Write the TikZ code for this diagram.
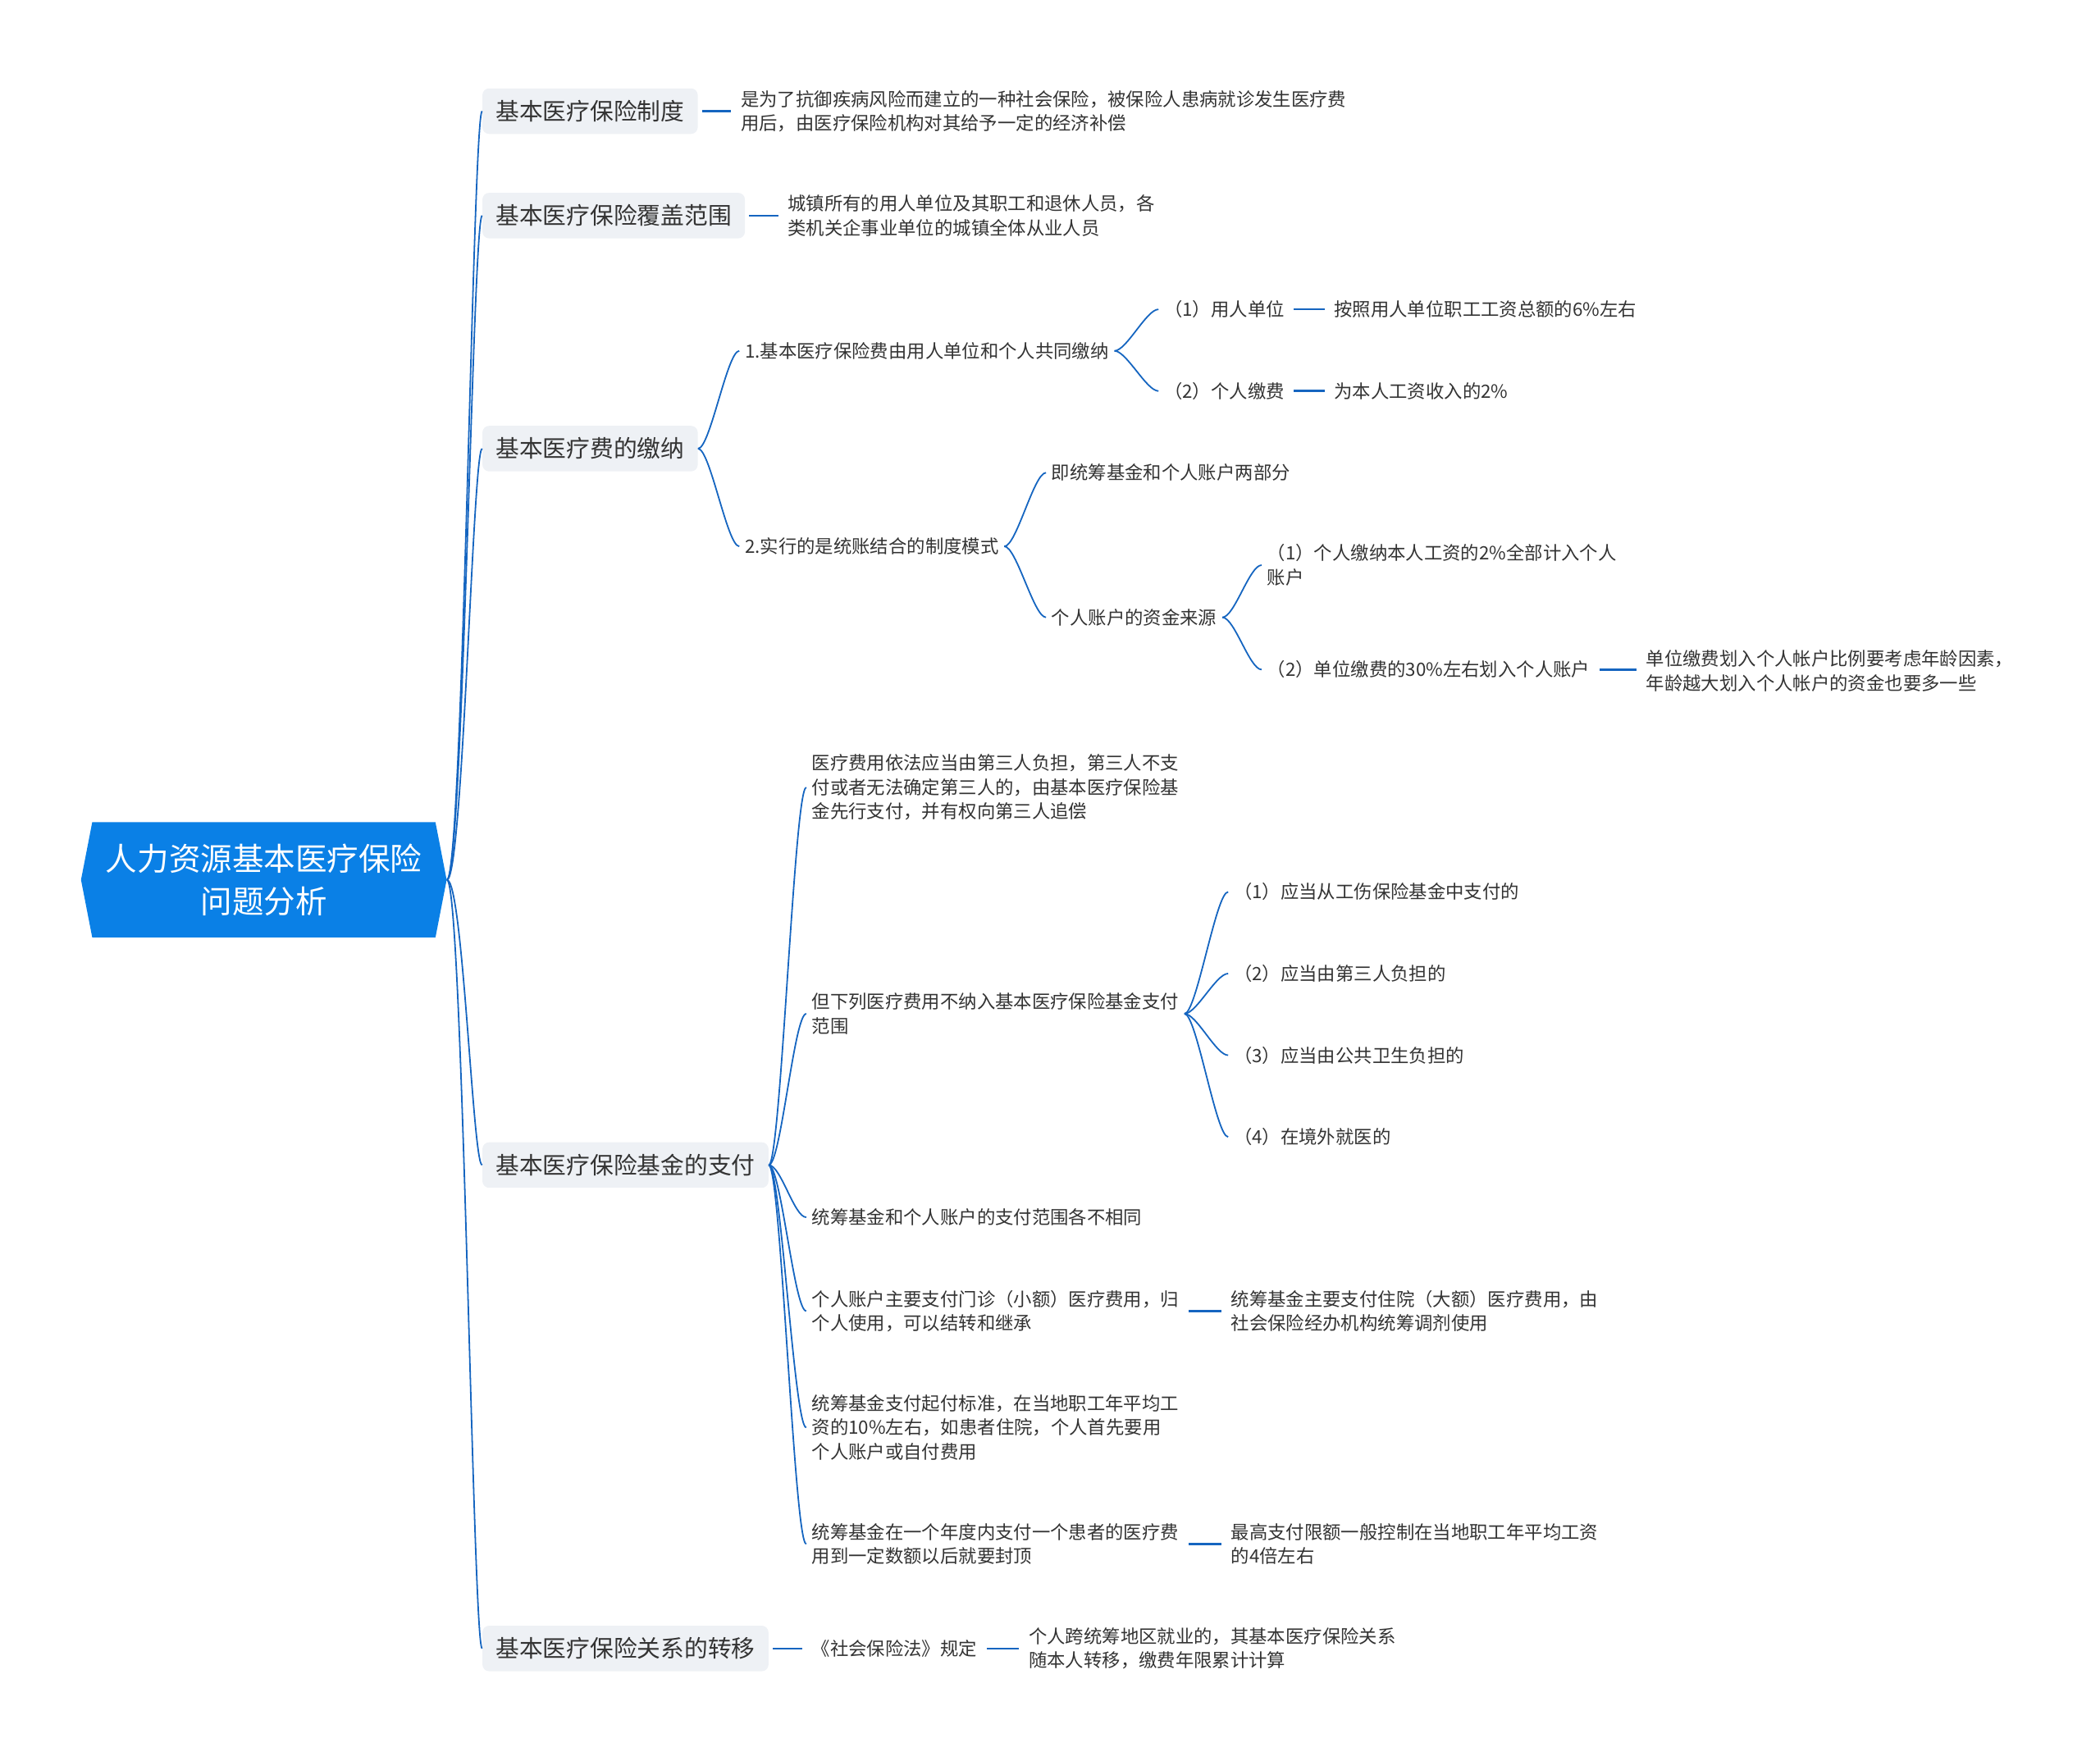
\documentclass[tikz,border=0pt]{standalone}
\usepackage{fontspec}
\setmainfont{Noto Sans CJK SC}
\usetikzlibrary{shapes.symbols}
\definecolor{rootblue}{HTML}{0A80E6}
\definecolor{linkblue}{HTML}{1565C0}
\definecolor{boxgray}{HTML}{EEF1F5}
\definecolor{txtgray}{HTML}{333333}
\begin{document}
\begin{tikzpicture}[x=1pt,y=-1pt,
 rootnode/.style={signal,signal to=west and east,signal pointer angle=158,fill=rootblue,text=white,
  minimum width=273,minimum height=86,inner sep=0,align=center,font=\fontsize{23.6}{32}\selectfont},
 topic/.style={fill=boxgray,rounded corners=5pt,text=txtgray,minimum height=34,inner xsep=10pt,
  inner ysep=0,anchor=west,font=\fontsize{17.6}{20}\selectfont},
 leaf/.style={text=txtgray,inner xsep=4pt,inner ysep=0,anchor=west,align=left,font=\fontsize{13.7}{18}\selectfont},
 link/.style={draw=linkblue,line width=1.1pt},
 bar/.style={draw=linkblue,line width=1.6pt,shorten <=3pt,shorten >=3pt}]
 \useasboundingbox (0,0) rectangle (1568,1315);
 % root and main topics
 \node[rootnode] (root) at (197,657) {人力资源基本医疗保险\\问题分析};
 \node[topic] (zhidu) at (360,83) {基本医疗保险制度};
 \node[topic] (fanwei) at (360,161) {基本医疗保险覆盖范围};
 \node[topic] (jiaona) at (360,335) {基本医疗费的缴纳};
 \node[topic] (zhifu) at (360,870) {基本医疗保险基金的支付};
 \node[topic] (zhuanyi) at (360,1231) {基本医疗保险关系的转移};
 \foreach \t in {zhidu,fanwei,jiaona,zhifu,zhuanyi}
  \draw[link] (root.east) .. controls +(12,0) and +(-7,0) .. (\t.west);
 % zhidu, fanwei
 \node[leaf] (zhiduT) at (549,83) {是为了抗御疾病风险而建立的一种社会保险，被保险人患病就诊发生医疗费\\用后，由医疗保险机构对其给予一定的经济补偿};
 \node[leaf] (fanweiT) at (584,161) {城镇所有的用人单位及其职工和退休人员，各\\类机关企事业单位的城镇全体从业人员};
 \draw[bar] (zhidu.east) -- (zhiduT.west);
 \draw[bar] (fanwei.east) -- (fanweiT.west);
 % jiaona
 \node[leaf] (jn1) at (552,262) {1.基本医疗保险费由用人单位和个人共同缴纳};
 \node[leaf] (jn2) at (552,408) {2.实行的是统账结合的制度模式};
 \node[leaf] (danwei) at (865,231) {（1）用人单位};
 \node[leaf] (geren) at (865,292) {（2）个人缴费};
 \node[leaf] (danweiT) at (992,231) {按照用人单位职工工资总额的6\%左右};
 \node[leaf] (gerenT) at (992,292) {为本人工资收入的2\%};
 \node[leaf] (liang) at (781,353) {即统筹基金和个人账户两部分};
 \node[leaf] (laiyuan) at (781,461) {个人账户的资金来源};
 \node[leaf] (ly1) at (942,422) {（1）个人缴纳本人工资的2\%全部计入个人\\账户};
 \node[leaf] (ly2) at (942,500) {（2）单位缴费的30\%左右划入个人账户};
 \node[leaf] (ly2T) at (1225,501) {单位缴费划入个人帐户比例要考虑年龄因素，\\年龄越大划入个人帐户的资金也要多一些};
 \foreach \a/\b in {jiaona/jn1,jiaona/jn2,jn1/danwei,jn1/geren,jn2/liang,jn2/laiyuan,laiyuan/ly1,laiyuan/ly2}
  \draw[link] (\a.east) .. controls +(9,0) and +(-9,0) .. (\b.west);
 \draw[bar] (danwei.east) -- (danweiT.west);
 \draw[bar] (geren.east) -- (gerenT.west);
 \draw[bar] (ly2.east) -- (ly2.east -| ly2T.west);
 % zhifu
 \node[leaf] (zf1) at (602,588) {医疗费用依法应当由第三人负担，第三人不支\\付或者无法确定第三人的，由基本医疗保险基\\金先行支付，并有权向第三人追偿};
 \node[leaf] (zf2) at (602,757) {但下列医疗费用不纳入基本医疗保险基金支付\\范围};
 \node[leaf] (zf3) at (602,909) {统筹基金和个人账户的支付范围各不相同};
 \node[leaf] (zf4) at (602,979) {个人账户主要支付门诊（小额）医疗费用，归\\个人使用，可以结转和继承};
 \node[leaf] (zf5) at (602,1066) {统筹基金支付起付标准，在当地职工年平均工\\资的10\%左右，如患者住院，个人首先要用\\个人账户或自付费用};
 \node[leaf] (zf6) at (602,1153) {统筹基金在一个年度内支付一个患者的医疗费\\用到一定数额以后就要封顶};
 \node[leaf] (bn1) at (917,666) {（1）应当从工伤保险基金中支付的};
 \node[leaf] (bn2) at (917,727) {（2）应当由第三人负担的};
 \node[leaf] (bn3) at (917,788) {（3）应当由公共卫生负担的};
 \node[leaf] (bn4) at (917,849) {（4）在境外就医的};
 \node[leaf] (zf4T) at (915,979) {统筹基金主要支付住院（大额）医疗费用，由\\社会保险经办机构统筹调剂使用};
 \node[leaf] (zf6T) at (915,1153) {最高支付限额一般控制在当地职工年平均工资\\的4倍左右};
 \foreach \b in {zf1,zf2,zf3,zf4,zf5,zf6}
  \draw[link] (zhifu.east) .. controls +(9,0) and +(-9,0) .. (\b.west);
 \foreach \b in {bn1,bn2,bn3,bn4}
  \draw[link] (zf2.east) .. controls +(9,0) and +(-9,0) .. (\b.west);
 \draw[bar] (zf4.east) -- (zf4T.west);
 \draw[bar] (zf6.east) -- (zf6T.west);
 % zhuanyi
 \node[leaf] (fa) at (602,1231) {《社会保险法》规定};
 \node[leaf] (faT) at (764,1231) {个人跨统筹地区就业的，其基本医疗保险关系\\随本人转移，缴费年限累计计算};
 \draw[bar] (zhuanyi.east) -- (fa.west);
 \draw[bar] (fa.east) -- (faT.west);
\end{tikzpicture}
\end{document}
